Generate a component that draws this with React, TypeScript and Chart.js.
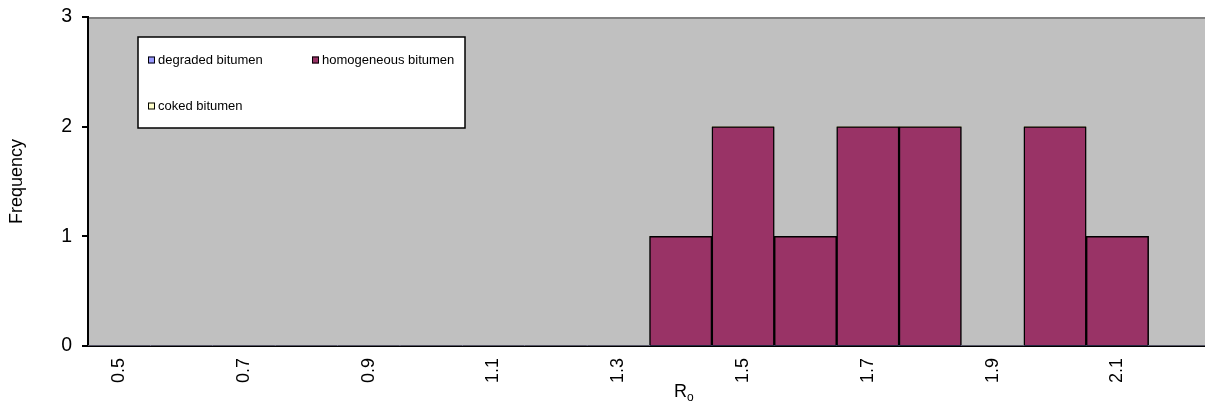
import React, { useEffect, useRef } from "react";
import { Chart, registerables } from "chart.js";

Chart.register(...registerables);

const categories = ["0.5", "0.6", "0.7", "0.8", "0.9", "1.0", "1.1", "1.2", "1.3", "1.4", "1.5", "1.6", "1.7", "1.8", "1.9", "2.0", "2.1", "2.2"];
const degradedBitumen = [0, 0, 0, 0, 0, 0, 0, 0, 0, 0, 0, 0, 0, 0, 0, 0, 0, 0];
const homogeneousBitumen = [0, 0, 0, 0, 0, 0, 0, 0, 0, 1, 2, 1, 2, 2, 0, 2, 1, 0];
const cokedBitumen = [0, 0, 0, 0, 0, 0, 0, 0, 0, 0, 0, 0, 0, 0, 0, 0, 0, 0];
const yTicks = [0, 1, 2, 3];

const FONT = "'Liberation Sans', Arial, sans-serif";

const bgPlugin = {
  id: "plotBg",
  beforeDraw(chart: any) {
    const { ctx, chartArea: a } = chart;
    ctx.save();
    ctx.fillStyle = "#C0C0C0";
    ctx.fillRect(a.left, a.top, a.right - a.left, a.bottom - a.top);
    ctx.strokeStyle = "#808080";
    ctx.lineWidth = 2;
    ctx.beginPath();
    ctx.moveTo(a.left, a.top + 1);
    ctx.lineTo(a.right, a.top + 1);
    ctx.stroke();
    ctx.restore();
  },
};

const extrasPlugin = {
  id: "extras",
  afterDraw(chart: any) {
    const { ctx, chartArea: a } = chart;
    ctx.save();
    // legend box
    const lx = a.left + 50;
    const ly = a.top + 20;
    const lw = 327;
    const lh = 91;
    ctx.fillStyle = "#FFFFFF";
    ctx.fillRect(lx, ly, lw, lh);
    ctx.strokeStyle = "#000000";
    ctx.lineWidth = 1.5;
    ctx.strokeRect(lx, ly, lw, lh);
    const items = chart.data.datasets;
    const pos = [
      [lx + 10, ly + 23],
      [lx + 174, ly + 23],
      [lx + 10, ly + 69],
    ];
    ctx.font = `13px ${FONT}`;
    ctx.textBaseline = "middle";
    ctx.textAlign = "left";
    items.forEach((ds: any, i: number) => {
      const [x, y] = pos[i];
      ctx.fillStyle = ds.backgroundColor;
      ctx.fillRect(x, y - 3.5, 7, 7);
      ctx.strokeStyle = "#000000";
      ctx.lineWidth = 1;
      ctx.strokeRect(x + 0.5, y - 3, 6, 6);
      ctx.fillStyle = "#000000";
      ctx.fillText(ds.label, x + 10, y + 0.5);
    });
    // x axis title R_o
    ctx.fillStyle = "#000000";
    ctx.textBaseline = "alphabetic";
    ctx.font = `18px ${FONT}`;
    ctx.fillText("R", 674, 397);
    ctx.font = `12px ${FONT}`;
    ctx.fillText("o", 687, 401);
    ctx.restore();
  },
};

export default function App() {
  const ref = useRef<HTMLCanvasElement | null>(null);

  useEffect(() => {
    if (!ref.current) return;
    const chart = new Chart(ref.current, {
      type: "bar",
      data: {
        labels: categories,
        datasets: [
          {
            label: "degraded bitumen",
            data: degradedBitumen,
            backgroundColor: "#9999FF",
            borderColor: "#000000",
            borderWidth: 0,
          },
          {
            label: "homogeneous bitumen",
            data: homogeneousBitumen,
            backgroundColor: "#993366",
            borderColor: "#000000",
            borderWidth: 1.5,
          },
          {
            label: "coked bitumen",
            data: cokedBitumen,
            backgroundColor: "#FFFFCC",
            borderColor: "#000000",
            borderWidth: 0,
          },
        ],
      },
      options: {
        animation: false,
        responsive: false,
        maintainAspectRatio: false,
        layout: { padding: { top: 17, right: 9, left: 0, bottom: 0 } },
        plugins: {
          legend: { display: false },
          tooltip: { enabled: false },
        },
        datasets: {
          bar: { categoryPercentage: 1, barPercentage: 1 },
        },
        scales: {
          x: {
            stacked: true,
            offset: true,
            grid: { display: false, drawTicks: false },
            border: { display: true, color: "#000000", width: 2 },
            ticks: {
              color: "#000000",
              font: { family: FONT, size: 18 },
              maxRotation: 90,
              minRotation: 90,
              padding: 12,
              autoSkip: false,
              callback: (_v: any, i: number) => (i % 2 === 0 ? categories[i] : ""),
            },
            afterFit: (s: any) => {
              s.height = 57;
              s.paddingLeft = 0;
              s.paddingRight = 0;
            },
          },
          y: {
            stacked: true,
            min: 0,
            max: 3,
            afterBuildTicks: (s: any) => {
              s.ticks = yTicks.map((v) => ({ value: v }));
            },
            grid: {
              display: true,
              drawOnChartArea: false,
              drawTicks: true,
              tickLength: 6,
              color: "#000000",
              lineWidth: 2,
            },
            border: { display: true, color: "#000000", width: 2 },
            ticks: {
              color: "#000000",
              font: { family: FONT, size: 19.5 },
              padding: 10,
            },
            title: {
              display: true,
              text: "Frequency",
              color: "#000000",
              font: { family: FONT, size: 18 },
              padding: { top: 6, bottom: 0 },
            },
            afterFit: (s: any) => {
              s.width = 88;
              s.paddingTop = 0;
              s.paddingBottom = 0;
            },
          },
        },
      },
      plugins: [bgPlugin, extrasPlugin],
    });
    return () => chart.destroy();
  }, []);

  return (
    <div style={{ position: "fixed", left: 0, top: 0, width: 1205, height: 403, overflow: "hidden", background: "#fff" }}>
      <canvas ref={ref} width={1220} height={403} style={{ width: 1220, height: 403, display: "block" }} />
    </div>
  );
}
